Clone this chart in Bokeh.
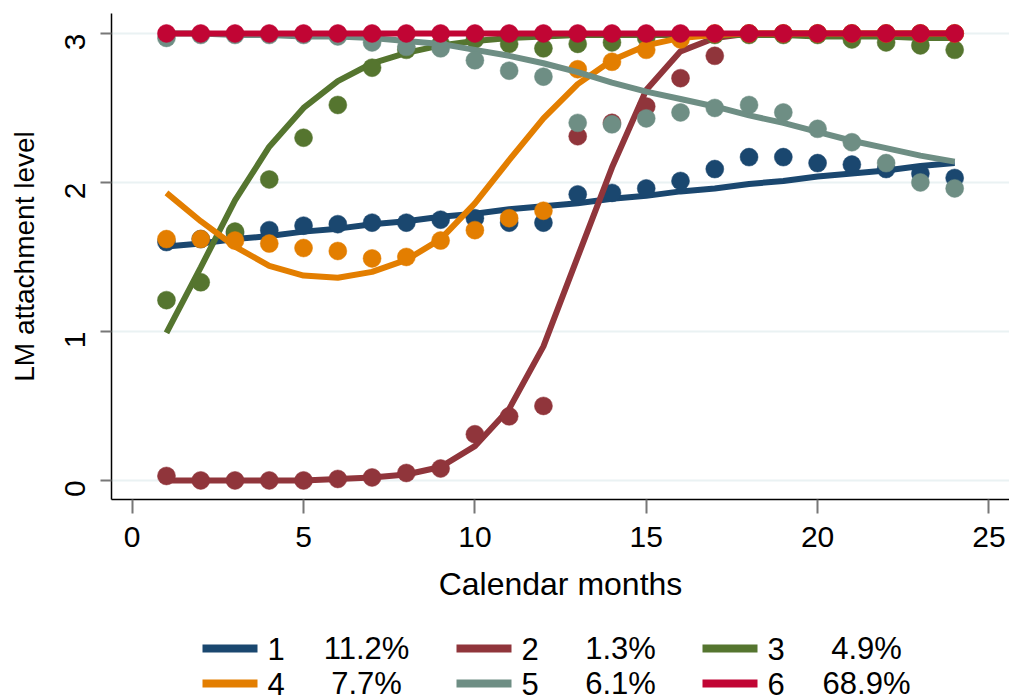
import math
from bokeh.plotting import figure
from bokeh.models import Range1d, ColumnDataSource, FixedTicker
from bokeh.layouts import column
from bokeh.core.properties import value
from bokeh.embed import file_html
from bokeh.resources import INLINE

# ---------------- data ----------------
months = [1, 2, 3, 4, 5, 6, 7, 8, 9, 10, 11, 12,
          13, 14, 15, 16, 17, 18, 19, 20, 21, 22, 23, 24]

obs1 = [1.60, 1.62, 1.66, 1.68, 1.71, 1.72, 1.73, 1.73, 1.75, 1.76, 1.73, 1.73,
        1.92, 1.93, 1.96, 2.01, 2.09, 2.17, 2.17, 2.13, 2.12, 2.09, 2.06, 2.03]
fit1 = [1.57, 1.59, 1.62, 1.64, 1.67, 1.69, 1.72, 1.74, 1.77, 1.79, 1.82, 1.84,
        1.86, 1.89, 1.91, 1.94, 1.96, 1.99, 2.01, 2.04, 2.06, 2.08, 2.11, 2.13]

obs2 = [0.03, 0.00, 0.00, 0.00, 0.00, 0.01, 0.02, 0.05, 0.08, 0.31, 0.43, 0.50,
        2.31, 2.40, 2.51, 2.70, 2.85, 3.00, 3.00, 3.00, 3.00, 3.00, 3.00, 3.00]
fit2 = [0.00, 0.00, 0.00, 0.00, 0.00, 0.01, 0.02, 0.04, 0.09, 0.23, 0.48, 0.90,
        1.50, 2.10, 2.62, 2.88, 2.97, 3.00, 3.00, 3.00, 3.00, 3.00, 3.00, 3.00]

obs3 = [1.21, 1.33, 1.67, 2.02, 2.30, 2.52, 2.77, 2.89, 2.93, 2.96, 2.93, 2.90,
        2.93, 2.94, 2.97, 2.98, 2.99, 2.99, 2.99, 2.99, 2.96, 2.94, 2.92, 2.89]
fit3 = [0.99, 1.43, 1.88, 2.24, 2.50, 2.68, 2.80, 2.87, 2.92, 2.95, 2.97, 2.98,
        2.99, 2.99, 2.99, 2.99, 2.99, 2.99, 2.99, 2.98, 2.98, 2.98, 2.97, 2.97]

obs4 = [1.62, 1.62, 1.61, 1.59, 1.56, 1.54, 1.49, 1.50, 1.61, 1.68, 1.76, 1.81,
        2.76, 2.81, 2.89, 2.96, 3.00, 3.00, 3.00, 3.00, 3.00, 3.00, 3.00, 3.00]
fit4 = [1.93, 1.74, 1.57, 1.44, 1.375, 1.36, 1.40, 1.48, 1.62, 1.86, 2.15, 2.43,
        2.66, 2.82, 2.92, 2.97, 2.99, 3.00, 3.00, 3.00, 3.00, 3.00, 3.00, 3.00]

obs5 = [2.97, 2.99, 2.99, 2.99, 2.99, 2.98, 2.94, 2.91, 2.90, 2.82, 2.75, 2.71,
        2.40, 2.39, 2.43, 2.47, 2.50, 2.52, 2.47, 2.36, 2.27, 2.13, 2.00, 1.96]
fit5 = [3.00, 3.00, 2.99, 2.99, 2.98, 2.98, 2.97, 2.95, 2.93, 2.89, 2.85, 2.80,
        2.74, 2.67, 2.61, 2.56, 2.51, 2.45, 2.40, 2.34, 2.28, 2.23, 2.18, 2.14]

obs6 = [3.00, 3.00, 3.00, 3.00, 3.00, 3.00, 3.00, 3.00, 3.00, 3.00, 3.00, 3.00,
        3.00, 3.00, 3.00, 3.00, 3.00, 3.00, 3.00, 3.00, 3.00, 3.00, 3.00, 3.00]
fit6 = [3.00, 3.00, 3.00, 3.00, 3.00, 3.00, 3.00, 3.00, 3.00, 3.00, 3.00, 3.00,
        3.00, 3.00, 3.00, 3.00, 3.00, 3.00, 3.00, 3.00, 3.00, 3.00, 3.00, 3.00]

class_labels = ["1", "2", "3", "4", "5", "6"]
class_shares = ["11.2%", "1.3%", "4.9%", "7.7%", "6.1%", "68.9%"]

x_ticks = [0, 5, 10, 15, 20, 25]
y_ticks = [0, 1, 2, 3]
x_title = "Calendar months"
y_title = "LM attachment level"

# ---------------- style ----------------
colors = ["#1a476f", "#90353b", "#55752f", "#e37e00", "#6e8e84", "#c10534"]
FONT = value("Liberation Sans")
W = 1009
MAIN_H = 608
LEG_H = 92
LEFT = 111

observed = [obs1, obs2, obs3, obs4, obs5, obs6]
fitted = [fit1, fit2, fit3, fit4, fit5, fit6]

p = figure(width=W, height=MAIN_H,
           x_range=Range1d(-0.604, 25.60), y_range=Range1d(-0.128, 3.134),
           output_backend="svg", toolbar_location=None,
           min_border_left=LEFT, min_border_right=0,
           min_border_top=13, min_border_bottom=109)
p.outline_line_color = None
p.background_fill_color = "white"
p.border_fill_color = "white"

p.xgrid.visible = False
p.ygrid.grid_line_color = "#eaf2f3"
p.ygrid.grid_line_width = 2

p.xaxis.ticker = FixedTicker(ticks=x_ticks)
p.yaxis.ticker = FixedTicker(ticks=y_ticks)

for ax in (p.xaxis, p.yaxis):
    ax.axis_line_color = "black"
    ax.axis_line_width = 1.5
    ax.major_tick_line_color = "#777777"
    ax.major_tick_line_width = 2
    ax.major_tick_in = 0
    ax.minor_tick_line_color = None
    ax.major_label_text_font = "Liberation Sans"
    ax.major_label_text_font_size = "30px"
    ax.major_label_text_color = "black"
    ax.axis_label_text_font = "Liberation Sans"
    ax.axis_label_text_font_style = "normal"
    ax.axis_label_text_color = "black"

p.xaxis.major_tick_out = 14
p.xaxis.major_label_standoff = 13
p.xaxis.axis_label = x_title
p.xaxis.axis_label_text_font_size = "32px"
p.xaxis.axis_label_standoff = 16

p.yaxis.major_tick_out = 11
p.yaxis.major_label_orientation = math.pi / 2
p.yaxis.major_label_standoff = 25
p.yaxis.axis_label = y_title
p.yaxis.axis_label_text_font_size = "28px"
p.yaxis.axis_label_standoff = 13

for obs, fit, col in zip(observed, fitted, colors):
    src = ColumnDataSource(dict(x=months, obs=obs, fit=fit))
    p.line("x", "fit", source=src, line_color=col, line_width=6)
    p.scatter("x", "obs", source=src, size=18, fill_color=col,
              line_color=col, line_width=0.5)

# ---------------- legend (own panel, page-pixel coordinates) ----------------
leg = figure(width=W, height=LEG_H,
             x_range=Range1d(LEFT, W), y_range=Range1d(LEG_H, 0),
             output_backend="svg", toolbar_location=None,
             min_border_left=LEFT, min_border_right=0,
             min_border_top=0, min_border_bottom=0)
leg.outline_line_color = None
leg.axis.visible = False
leg.grid.visible = False
leg.background_fill_color = "white"
leg.border_fill_color = "white"

col_x = [202, 456, 702]
row_y = [40, 75]
sw_len = 55
num_dx = 65
pct_dx = 164

sx0, sx1, sy, nx, px, cc = [], [], [], [], [], []
for i in range(6):
    r, c = divmod(i, 3)
    sx0.append(col_x[c])
    sx1.append(col_x[c] + sw_len)
    sy.append(row_y[r])
    nx.append(col_x[c] + num_dx)
    px.append(col_x[c] + pct_dx)
    cc.append(colors[i])

lsrc = ColumnDataSource(dict(x0=sx0, x1=sx1, y=sy, nx=nx, px=px, c=cc,
                             lab=class_labels, pct=class_shares))
leg.segment("x0", "y", "x1", "y", source=lsrc, line_color="c", line_width=8)
leg.text("nx", "y", text="lab", source=lsrc, text_font=FONT,
         text_font_size="31px", text_align="left", text_baseline="middle",
         text_color="black")
leg.text("px", "y", text="pct", source=lsrc, text_font=FONT,
         text_font_size="31px", text_align="center", text_baseline="middle",
         text_color="black")

layout = column(p, leg, spacing=0)
open("out.html", "w").write(file_html(layout, INLINE))
